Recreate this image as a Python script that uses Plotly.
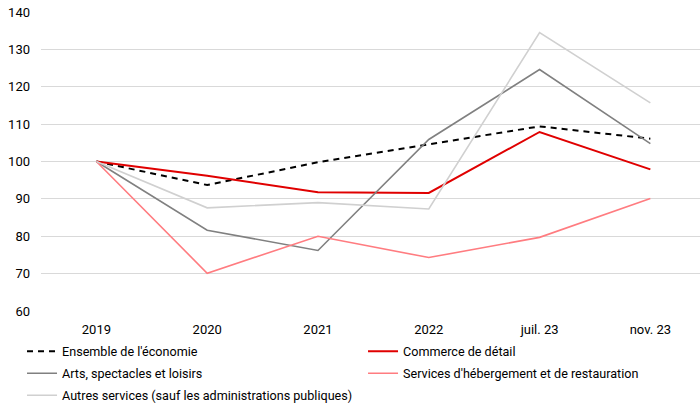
import plotly.graph_objects as go

categories = ["2019", "2020", "2021", "2022", "juil. 23", "nov. 23"]
ensemble = [100, 93.7, 99.8, 104.6, 109.4, 106.1]
commerce = [100, 96.2, 91.8, 91.6, 107.9, 97.9]
arts = [100, 81.6, 76.2, 105.9, 124.6, 104.8]
hebergement = [100, 70.1, 80.0, 74.3, 79.7, 90.1]
autres = [100, 87.6, 89.0, 87.3, 134.5, 115.7]

FONT = "Roboto, sans-serif"

fig = go.Figure()
fig.add_trace(go.Scatter(x=categories, y=ensemble, mode="lines", name="Ensemble de l'économie",
                         legend="legend",
                         line=dict(color="#000000", width=2, dash="6px,5px")))
fig.add_trace(go.Scatter(x=categories, y=commerce, mode="lines", name="Commerce de détail",
                         legend="legend",
                         line=dict(color="#E00000", width=2)))
fig.add_trace(go.Scatter(x=categories, y=arts, mode="lines", name="Arts, spectacles et loisirs",
                         legend="legend2",
                         line=dict(color="#808080", width=1.6)))
fig.add_trace(go.Scatter(x=categories, y=hebergement, mode="lines", name="Services d'hébergement et de restauration",
                         legend="legend2",
                         line=dict(color="#FF7C80", width=1.6)))
fig.add_trace(go.Scatter(x=categories, y=autres, mode="lines", name="Autres services (sauf les administrations publiques)",
                         legend="legend3",
                         line=dict(color="#D0D0D0", width=1.6)))

leg_common = dict(orientation="h", x=-0.0288, xanchor="left", yanchor="top",
                  entrywidth=296, entrywidthmode="pixels", traceorder="normal",
                  font=dict(size=12.6, family=FONT), bgcolor="rgba(0,0,0,0)")

fig.update_layout(
    width=700, height=404,
    margin=dict(l=41, r=0, t=12, b=93, autoexpand=False),
    paper_bgcolor="white", plot_bgcolor="white",
    font=dict(family=FONT, size=13, color="#000000"),
    xaxis=dict(type="category", showgrid=False, showline=False, ticks="",
               tickfont=dict(size=13), range=[-0.5, 5.448], ticklabelstandoff=9),
    yaxis=dict(range=[60, 140], dtick=10, showgrid=True, gridcolor="#D9D9D9", gridwidth=1,
               zeroline=False, showline=False, ticks="", tickfont=dict(size=13),
               ticklabelstandoff=10),
    showlegend=True,
    legend=dict(leg_common, y=-0.0853),
    legend2=dict(leg_common, y=-0.1593),
    legend3=dict(leg_common, y=-0.2328),
)

fig.write_html("out.html", config={"displayModeBar": False},
               post_script="document.body.style.margin='0';")
